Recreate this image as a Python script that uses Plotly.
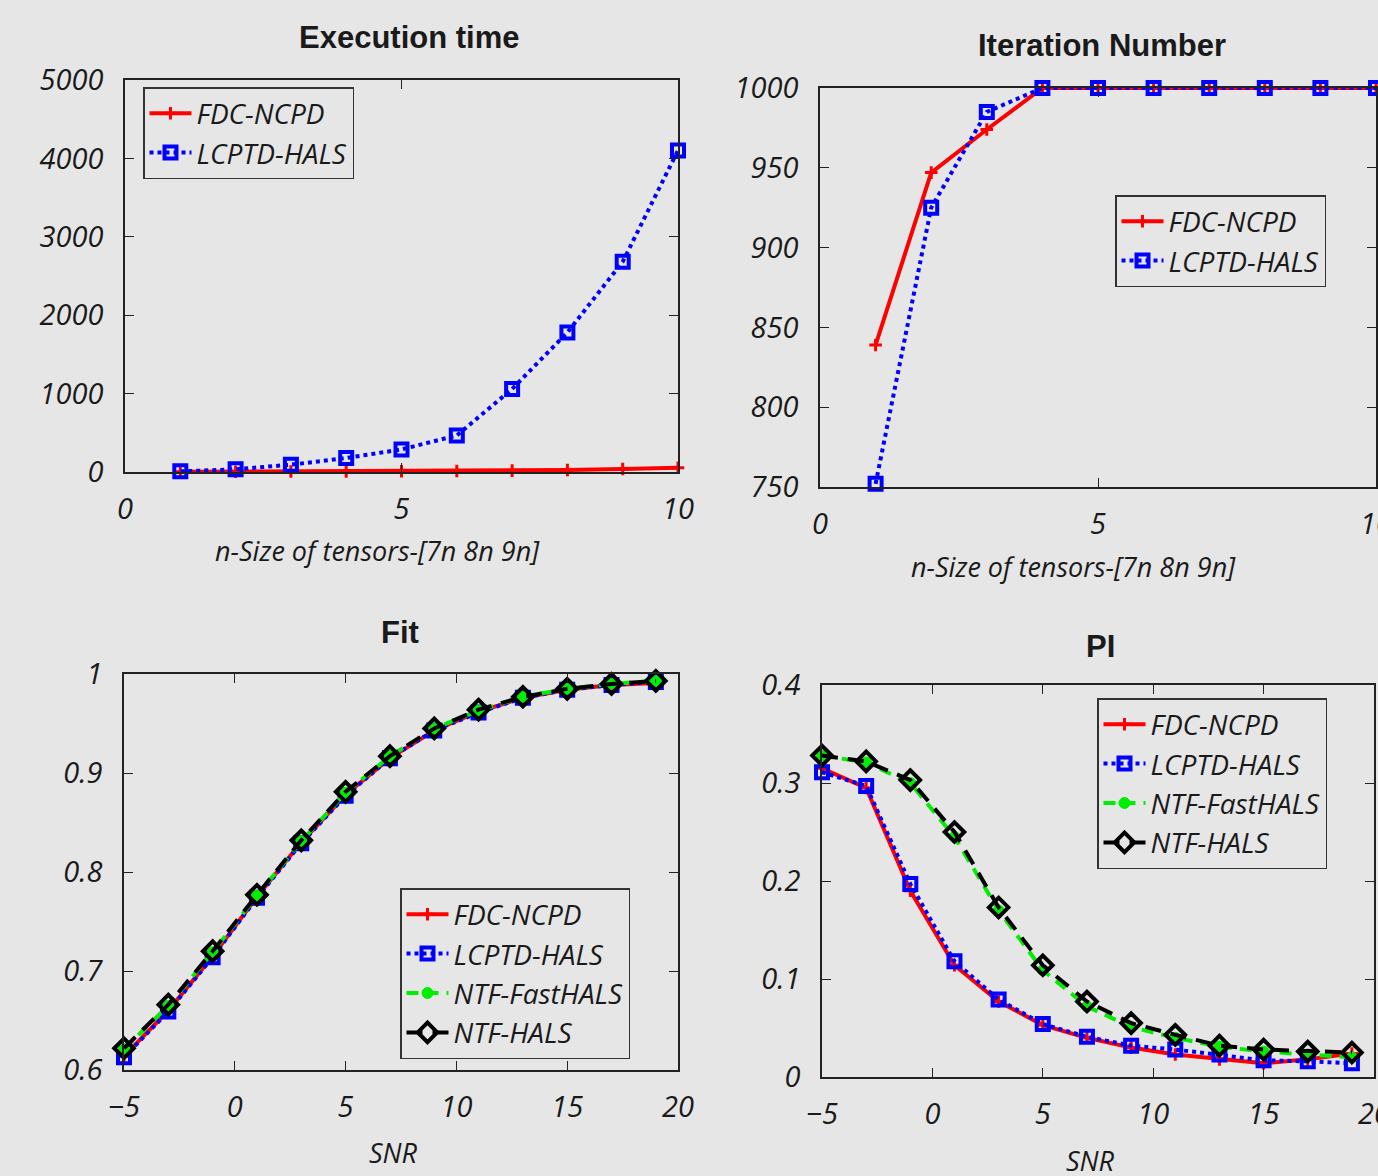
import plotly.graph_objects as go

W, H = 1378, 1176

# ---------------- data ----------------
n_size = [1, 2, 3, 4, 5, 6, 7, 8, 9, 10]
exec_fdc = [2, 4, 6, 8, 10, 13, 17, 25, 38, 55]
exec_lcptd = [8, 34, 93, 178, 288, 466, 1059, 1780, 2682, 4102]

iter_fdc = [839, 947, 974, 1000, 1000, 1000, 1000, 1000, 1000, 1000]
iter_lcptd = [752, 925, 985, 1000, 1000, 1000, 1000, 1000, 1000, 1000]

snr = [-5, -3, -1, 1, 3, 5, 7, 9, 11, 13, 15, 17, 19]
fit_fdc = [0.614, 0.660, 0.715, 0.775, 0.830, 0.878, 0.915, 0.943, 0.962, 0.976, 0.984, 0.989, 0.991]
fit_lcptd = [0.613, 0.659, 0.714, 0.774, 0.829, 0.877, 0.915, 0.943, 0.961, 0.976, 0.984, 0.989, 0.992]
fit_fast = [0.621, 0.665, 0.719, 0.776, 0.831, 0.880, 0.917, 0.945, 0.963, 0.977, 0.985, 0.990, 0.993]
fit_hals = [0.622, 0.666, 0.720, 0.777, 0.832, 0.881, 0.917, 0.945, 0.964, 0.977, 0.985, 0.990, 0.993]

pi_fdc = [0.315, 0.295, 0.190, 0.114, 0.077, 0.053, 0.040, 0.030, 0.023, 0.018, 0.014, 0.018, 0.024]
pi_lcptd = [0.311, 0.297, 0.197, 0.118, 0.079, 0.054, 0.041, 0.032, 0.028, 0.023, 0.017, 0.016, 0.014]
pi_fast = [0.328, 0.321, 0.300, 0.245, 0.170, 0.109, 0.072, 0.051, 0.040, 0.031, 0.026, 0.023, 0.020]
pi_hals = [0.328, 0.322, 0.303, 0.250, 0.173, 0.114, 0.077, 0.055, 0.043, 0.032, 0.028, 0.026, 0.025]

names = ["FDC-NCPD", "LCPTD-HALS", "NTF-FastHALS", "NTF-HALS"]

BG = "#e6e6e6"
TXT = "#1a1a1a"
FONT = "Open Sans"

styles = {
    "FDC-NCPD": dict(line=dict(color="#ff0000", width=4, dash="solid"),
                     marker=dict(symbol="cross-thin", size=9, color="#ff0000",
                                 line=dict(color="#ff0000", width=3))),
    "LCPTD-HALS": dict(line=dict(color="#0000ff", width=4, dash="dot"),
                       marker=dict(symbol="square-open", size=12, color="#0000ff",
                                   line=dict(color="#0000ff", width=4))),
    "NTF-FastHALS": dict(line=dict(color="#00ee00", width=4, dash="12px,8px"),
                         marker=dict(symbol="circle", size=11, color="#00ee00",
                                     line=dict(color="#00ee00", width=1))),
    "NTF-HALS": dict(line=dict(color="#000000", width=4, dash="16px,10px"),
                     marker=dict(symbol="diamond-open", size=15, color="#000000",
                                 line=dict(color="#000000", width=4))),
}


def px_x(p):
    return p / W


def px_y(p):
    return 1 - p / H


fig = go.Figure()


def add(xs, ys, name, ax, legend):
    s = styles[name]
    fig.add_trace(go.Scatter(
        x=xs, y=ys, name=name, mode="lines+markers",
        line=s["line"], marker=s["marker"], cliponaxis=False,
        xaxis="x" + ax, yaxis="y" + ax, legend=legend,
    ))


add(n_size, exec_fdc, names[0], "", "legend")
add(n_size, exec_lcptd, names[1], "", "legend")

add(n_size, iter_fdc, names[0], "2", "legend2")
add(n_size, iter_lcptd, names[1], "2", "legend2")

add(snr, fit_fdc, names[0], "3", "legend3")
add(snr, fit_lcptd, names[1], "3", "legend3")
add(snr, fit_fast, names[2], "3", "legend3")
add(snr, fit_hals, names[3], "3", "legend3")

add(snr, pi_fdc, names[0], "4", "legend4")
add(snr, pi_lcptd, names[1], "4", "legend4")
add(snr, pi_fast, names[2], "4", "legend4")
add(snr, pi_hals, names[3], "4", "legend4")

tickfont = dict(family=FONT, size=29, style="italic", color=TXT)


def xax(x0, x1, rng, dtick, anchor):
    return dict(domain=[px_x(x0), px_x(x1)], range=rng, dtick=dtick, tick0=0,
                anchor=anchor, showline=True, linecolor="#222", linewidth=1.5,
                mirror="ticks", ticks="inside", ticklen=9, tickcolor="#222",
                showgrid=False, zeroline=False, tickfont=tickfont,
                ticklabelstandoff=10, ticklabeloverflow="allow", automargin=False)


def yax(y0, y1, rng, dtick, anchor, tick0=0):
    return dict(domain=[px_y(y1), px_y(y0)], range=rng, dtick=dtick, tick0=tick0,
                anchor=anchor, showline=True, linecolor="#222", linewidth=1.5,
                mirror="ticks", ticks="inside", ticklen=9, tickcolor="#222",
                showgrid=False, zeroline=False, tickfont=tickfont,
                ticklabelstandoff=14, ticklabeloverflow="allow", automargin=False)


def leg(x, y):
    return dict(x=px_x(x), y=px_y(y), xanchor="left", yanchor="top",
                bgcolor=BG, bordercolor="#333", borderwidth=1.5,
                font=dict(family=FONT, size=28, style="italic", color=TXT),
                itemwidth=42, tracegroupgap=0)


fig.update_layout(
    width=W, height=H,
    margin=dict(l=0, r=0, t=0, b=0),
    paper_bgcolor=BG, plot_bgcolor=BG,
    showlegend=True,
    xaxis=xax(125, 678, [0, 10], 5, "y"),
    yaxis=yax(80, 472, [0, 5000], 1000, "x"),
    xaxis2=xax(820, 1376, [0, 10], 5, "y2"),
    yaxis2=yax(88, 487, [750, 1000], 50, "x2", tick0=750),
    xaxis3=xax(124, 678, [-5, 20], 5, "y3"),
    yaxis3=yax(674, 1070, [0.6, 1.0], 0.1, "x3", tick0=0.6),
    xaxis4=xax(822, 1374, [-5, 20], 5, "y4"),
    yaxis4=yax(685, 1077, [0, 0.4], 0.1, "x4"),
    legend=leg(143, 87),
    legend2=leg(1115, 195),
    legend3=leg(400, 888),
    legend4=leg(1097, 698),
)

titles = [
    ("Execution time", 409, 38),
    ("Iteration Number", 1102, 46),
    ("Fit", 400, 632),
    ("PI", 1100, 646),
]
for t, x, y in titles:
    fig.add_annotation(text="<b>" + t + "</b>", x=px_x(x), y=px_y(y), xref="paper", yref="paper",
                       showarrow=False, xanchor="center", yanchor="middle",
                       font=dict(family="Liberation Sans", size=31, color=TXT))

xtitles = [
    ("n-Size of tensors-[7n 8n 9n]", 378, 550),
    ("n-Size of tensors-[7n 8n 9n]", 1073, 566),
    ("SNR", 393, 1152),
    ("SNR", 1090, 1160),
]
for t, x, y in xtitles:
    fig.add_annotation(text=t, x=px_x(x), y=px_y(y), xref="paper", yref="paper",
                       showarrow=False, xanchor="center", yanchor="middle",
                       font=dict(family=FONT, size=27, style="italic", color=TXT))

fig.write_html("out.html", config={"displayModeBar": False},
               post_script="document.body.style.margin='0';document.body.style.background='%s';" % BG)
